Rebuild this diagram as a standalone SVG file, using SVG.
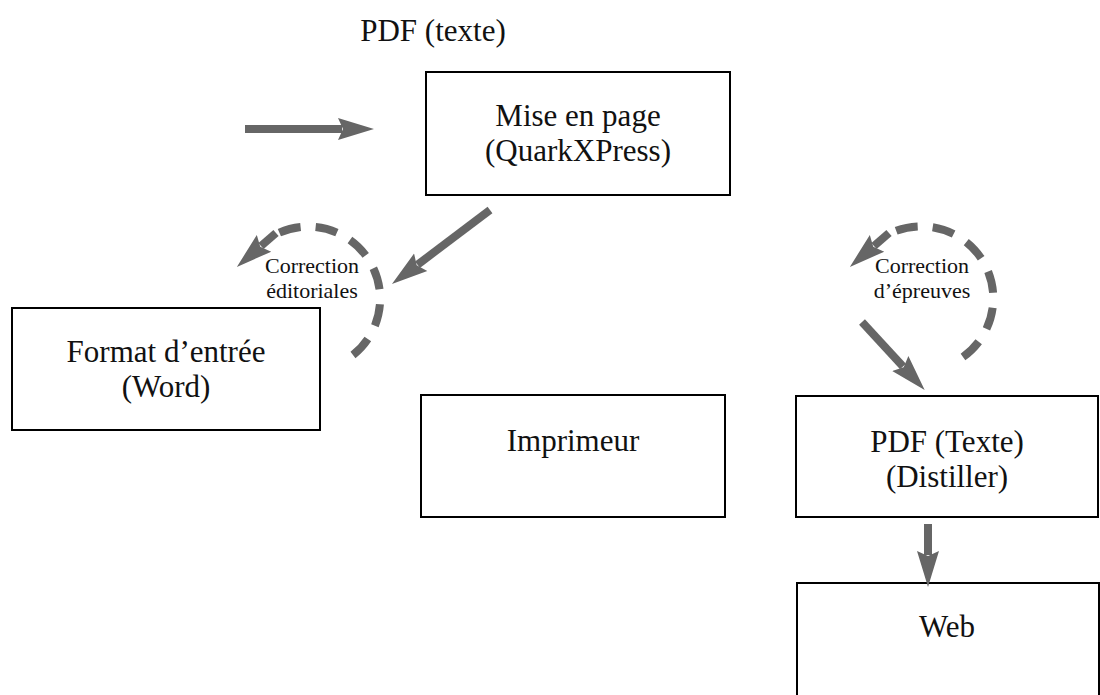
<svg xmlns="http://www.w3.org/2000/svg" width="1100" height="695" viewBox="0 0 1100 695">
<style>
.box{fill:#fff;stroke:#000;stroke-width:2}
.t{font-family:"Liberation Serif","Times New Roman",serif;font-size:31px;fill:#111;text-anchor:middle}
.s{font-family:"Liberation Serif","Times New Roman",serif;font-size:22px;fill:#111;text-anchor:middle}
.a{fill:none;stroke:#666;stroke-width:8}
.d{fill:none;stroke:#666;stroke-width:8;stroke-dasharray:22 15}
</style>
<defs>
<marker id="h" markerUnits="userSpaceOnUse" markerWidth="40" markerHeight="24" viewBox="0 -12 40 24" refX="4" refY="0" orient="auto">
<path d="M0,-11 L36,0 L0,11 L5,0 Z" fill="#666"/>
</marker>
</defs>
<text class="t" x="433" y="41">PDF (texte)</text>
<g id="n-mise"><rect class="box" x="426" y="72" width="304" height="123"/><text class="t" x="578" y="126">Mise en page</text><text class="t" x="578" y="161">(QuarkXPress)</text></g>
<g id="n-format"><rect class="box" x="12" y="308" width="308" height="122"/><text class="t" x="166" y="362">Format d’entrée</text><text class="t" x="166" y="397">(Word)</text></g>
<g id="n-imprimeur"><rect class="box" x="421" y="395" width="304" height="122"/><text class="t" x="573" y="451">Imprimeur</text></g>
<g id="n-pdf"><rect class="box" x="796" y="396" width="302" height="121"/><text class="t" x="947" y="452">PDF (Texte)</text><text class="t" x="947" y="487">(Distiller)</text></g>
<g id="n-web"><rect class="box" x="797" y="583" width="302" height="120"/><text class="t" x="947" y="637">Web</text></g>
<g id="connectors">
<path class="a" d="M245,129 L342,129" marker-end="url(#h)"/>
<path class="a" d="M490,210 L417.5,264.7" marker-end="url(#h)"/>
<path class="d" d="M353,355 A72,72 0 0 0 271,237"/>
<path class="a" d="M276,233 L261,246" marker-end="url(#h)"/>
<path class="d" d="M963,357 A72,72 0 0 0 887,235"/>
<path class="a" d="M889,233 L874,246" marker-end="url(#h)"/>
<path class="a" d="M862,322 L903,366.5" marker-end="url(#h)"/>
<path class="a" d="M928,524 L928,555" marker-end="url(#h)"/>
<text class="s" x="312" y="273">Correction</text>
<text class="s" x="312" y="298">éditoriales</text>
<text class="s" x="922" y="273">Correction</text>
<text class="s" x="922" y="298">d’épreuves</text>
</g>
</svg>
